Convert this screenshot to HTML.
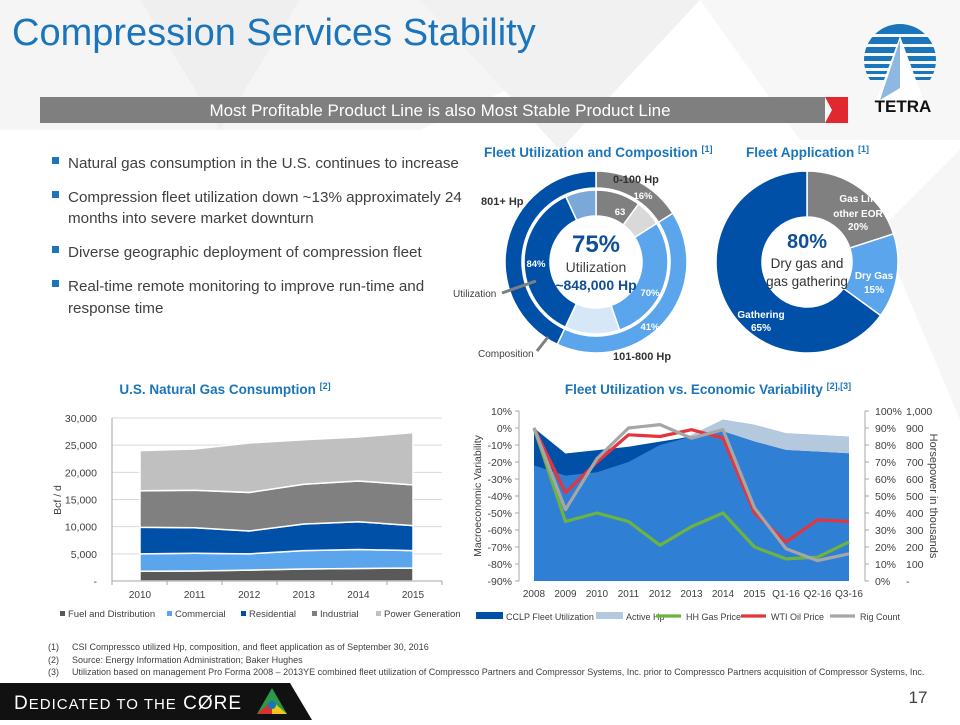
<!DOCTYPE html>
<html><head><meta charset="utf-8">
<style>
html,body{margin:0;padding:0;background:#fff;}
body{width:960px;height:720px;overflow:hidden;font-family:"Liberation Sans",sans-serif;}
svg text{font-family:"Liberation Sans",sans-serif;}
</style></head>
<body>
<svg id="s" width="960" height="720" viewBox="0 0 960 720" xmlns="http://www.w3.org/2000/svg">
<g>
<rect x="0" y="0" width="960" height="720" fill="#ffffff"/>
<polygon points="0,0 700,0 420,130 0,130" fill="#f5f5f6"/>
<polygon points="140,0 300,0 220,130" fill="#efeff0"/>
<polygon points="420,0 700,0 560,150" fill="#f1f1f2"/>
<polygon points="700,0 960,0 960,140 800,140" fill="#f7f7f8"/>
<polygon points="880,230 960,150 960,420" fill="#f6f6f7"/>
</g>
<text x="12" y="45" font-size="38" fill="#1b75bb">Compression Services Stability</text>
<g>
<rect x="40" y="97" width="785" height="26" fill="#7f7f7f"/>
<text x="440" y="116" font-size="17" fill="#fff" text-anchor="middle">Most Profitable Product Line is also Most Stable Product Line</text>
<polygon points="825,97 848,97 848,123 825,123 832,110" fill="#e0282e"/>
</g>
<g>
<clipPath id="lc"><circle cx="900" cy="60" r="36"/></clipPath>
<g clip-path="url(#lc)">
<rect x="860" y="24" width="80" height="10" fill="#1b75bb"/>
<rect x="860" y="37" width="80" height="7" fill="#1b75bb"/>
<rect x="860" y="47" width="80" height="6" fill="#1b75bb"/>
<rect x="860" y="56" width="80" height="5" fill="#1b75bb"/>
<rect x="860" y="64" width="80" height="4" fill="#1b75bb"/>
<rect x="860" y="71" width="80" height="3" fill="#1b75bb"/>
<rect x="860" y="77" width="80" height="3" fill="#1b75bb"/>
</g>
<polygon points="900,36 876,102 924,102" fill="#fff"/>
<polygon points="900,40 880,100 900,88" fill="#8fb8e0"/>
<text x="903" y="112" font-size="17" font-weight="bold" fill="#111" text-anchor="middle">TETRA</text>
</g>
<g font-size="15.2" fill="#404040">
<rect x="52" y="157" width="7" height="7" fill="#1b75bb"/><text x="68" y="168">Natural gas consumption in the U.S. continues to increase</text>
<rect x="52" y="191" width="7" height="7" fill="#1b75bb"/><text x="68" y="202">Compression fleet utilization down ~13% approximately 24</text>
<text x="68" y="223">months into severe market downturn</text>
<rect x="52" y="246" width="7" height="7" fill="#1b75bb"/><text x="68" y="257">Diverse geographic deployment of compression fleet</text>
<rect x="52" y="280" width="7" height="7" fill="#1b75bb"/><text x="68" y="291">Real-time remote monitoring to improve run-time and</text>
<text x="68" y="313">response time</text>
</g>
<text x="484" y="157" font-size="13.5" font-weight="bold" fill="#1b75bb">Fleet Utilization and Composition <tspan font-size="9" dy="-5">[1]</tspan></text>
<text x="746" y="157" font-size="13.5" font-weight="bold" fill="#1b75bb">Fleet Application <tspan font-size="9" dy="-5">[1]</tspan></text>
<g id="donuts"></g>
<text x="225" y="394" font-size="13.5" font-weight="bold" fill="#1b75bb" text-anchor="middle">U.S. Natural Gas Consumption <tspan font-size="9" dy="-5">[2]</tspan></text>
<text x="708" y="394" font-size="13.5" font-weight="bold" fill="#1b75bb" text-anchor="middle">Fleet Utilization vs. Economic Variability <tspan font-size="9" dy="-5">[2],[3]</tspan></text>
<g id="area1"></g>
<g id="area2"></g>
<g font-size="9" fill="#404040">
<text x="48" y="650">(1)</text><text x="72" y="650">CSI Compressco utilized Hp, composition, and fleet application as of September 30, 2016</text>
<text x="48" y="663">(2)</text><text x="72" y="663">Source: Energy Information Administration; Baker Hughes</text>
<text x="48" y="675">(3)</text><text x="72" y="675">Utilization based on management Pro Forma 2008 – 2013YE combined fleet utilization of Compressco Partners and Compressor Systems, Inc. prior to Compressco Partners acquisition of Compressor Systems, Inc.</text>
</g>
<g>
<polygon points="0,683 290,683 312,720 0,720" fill="#111"/>
<text x="14" y="709" font-size="19" fill="#fff" letter-spacing="1">D<tspan font-size="15">EDICATED TO THE</tspan> CØRE</text>
<polygon points="272,688 257,714 287,714" fill="#2a9a48"/>
<polygon points="272,701 257,714 272,714" fill="#d8312e"/>
<polygon points="272,701 287,714 272,714" fill="#f2c41c"/>
<circle cx="272" cy="705" r="4" fill="#1b75bb"/>
<text x="918" y="703" font-size="17" fill="#404040" text-anchor="middle">17</text>
</g>
</svg>
<script>
// ---- data: gas consumption ----
const gasYears = ['2010','2011','2012','2013','2014','2015'];
const fuelDist = [1800,1850,2000,2200,2300,2400];
const commercial = [3200,3250,3000,3400,3500,3200];
const residential = [4900,4700,4200,4900,5100,4600];
const industrial = [6700,6900,7100,7300,7500,7500];
const powerGen = [7400,7600,9100,8200,8100,9600];
const gasTicks = ['-','5,000','10,000','15,000','20,000','25,000','30,000'];
// ---- data: variability ----
const varCats = ['2008','2009','2010','2011','2012','2013','2014','2015','Q1-16','Q2-16','Q3-16'];
const fleetUtil = [0,-15,-13,-11,-8,-5,-2,-8,-13,-14,-15];
const activeHp = [-22,-28,-26,-20,-10,-4,5,2,-3,-4,-5];
const hhGas = [0,-55,-50,-55,-69,-58,-50,-70,-77,-76,-67];
const wtiOil = [0,-38,-20,-4,-5,-1,-6,-50,-67,-54,-55];
const rigCount = [0,-48,-18,0,2,-6,-1,-47,-71,-78,-74];
const leftTicks = ['10%','0%','-10%','-20%','-30%','-40%','-50%','-60%','-70%','-80%','-90%'];
const pctTicks = ['100%','90%','80%','70%','60%','50%','40%','30%','20%','10%','0%'];
const hpTicks = ['1,000','900','800','700','600','500','400','300','200','100','-'];
// ---- data: donuts ----
const compShares = [16,41,43];
const compUtil = [63,70,84];
const appShares = [20,15,65];

const NS='http://www.w3.org/2000/svg';
function mk(parent,tag,attrs,txt){const e=document.createElementNS(NS,tag);for(const k in attrs)e.setAttribute(k,attrs[k]);if(txt!==undefined)e.textContent=txt;parent.appendChild(e);return e;}

// ===== gas chart =====
const g1=document.getElementById('area1');


const gx=i=>140+i*54.6, gy=v=>581-v/30000*163;
for(let i=0;i<gasTicks.length;i++){
  const y=gy(i*5000);
  if(i>0){const l=mk(g1,'line',{x1:112,x2:442,y1:y,y2:y,stroke:'#d9d9d9','stroke-width':1});
  
  }
  const t=mk(g1,'text',{x:97,y:y+4,'font-size':10.5,fill:'#404040','text-anchor':'end'},gasTicks[i]);
  
  
}
const gasSeries=[fuelDist,commercial,residential,industrial,powerGen];
const gasColors=['#595959','#5aa5ec','#0050a8','#808080','#c0c0c0'];
const gasNames=['fuel-and-distribution','commercial','residential','industrial','power-generation'];
let base=gasYears.map(()=>0);
for(let s=0;s<gasSeries.length;s++){
  const top=base.map((b,i)=>b+gasSeries[s][i]);
  let d='M'+gx(0)+','+gy(top[0]);
  for(let i=1;i<top.length;i++)d+='L'+gx(i)+','+gy(top[i]);
  for(let i=top.length-1;i>=0;i--)d+='L'+gx(i)+','+gy(base[i]);
  const p=mk(g1,'path',{d:d+'Z',fill:gasColors[s],stroke:'#fff','stroke-width':1.5});
  
  
  base=top;
}
mk(g1,'line',{x1:112,x2:112,y1:418,y2:581,stroke:'#a6a6a6'});
mk(g1,'line',{x1:112,x2:442,y1:581,y2:581,stroke:'#a6a6a6'});
for(let i=0;i<=6;i++){mk(g1,'line',{x1:112+i*55,x2:112+i*55,y1:581,y2:585,stroke:'#a6a6a6'});}
gasYears.forEach((yr,i)=>{const t=mk(g1,'text',{x:gx(i),y:598,'font-size':10,fill:'#404040','text-anchor':'middle'},yr);

});
const yt=mk(g1,'text',{x:0,y:0,'font-size':10.5,fill:'#404040','text-anchor':'middle',transform:'translate(61,500) rotate(-90)'},'Bcf / d');


const legX=[60,167,241,312,376],legT=['Fuel and Distribution','Commercial','Residential','Industrial','Power Generation'];
legT.forEach((n,i)=>{const lg=mk(g1,'g',{});


mk(lg,'rect',{x:legX[i],y:611,width:5,height:5,fill:gasColors[i]});
mk(lg,'text',{x:legX[i]+8,y:617,'font-size':9.5,fill:'#404040'},n);});

// ===== variability chart =====
const g2=document.getElementById('area2');


const vx=i=>534+i*31.5, vy=p=>411+(10-p)/100*170, vb=vy(-90);
function areaPath(vals){let d='M'+vx(0)+','+vb;vals.forEach((v,i)=>d+='L'+vx(i)+','+vy(v));return d+'L'+vx(vals.length-1)+','+vb+'Z';}
const aH=mk(g2,'path',{d:areaPath(activeHp),fill:'#b4c9dd'});


const aU=mk(g2,'path',{d:areaPath(fleetUtil),fill:'#0050a8'});


const aM=mk(g2,'path',{d:areaPath(fleetUtil.map((v,i)=>Math.min(v,activeHp[i]))),fill:'#2f80d5'});


function line(vals,col,name){let d='';vals.forEach((v,i)=>d+=(i?'L':'M')+vx(i)+','+vy(v));
const p=mk(g2,'path',{d:d,fill:'none',stroke:col,'stroke-width':3.2,'stroke-linejoin':'round'});

}
line(hhGas,'#6db33f','line-hh-gas-price');
line(wtiOil,'#e2363f','line-wti-oil-price');
line(rigCount,'#a6a6a6','line-rig-count');
mk(g2,'line',{x1:519,x2:519,y1:411,y2:581,stroke:'#a6a6a6'});
mk(g2,'line',{x1:865,x2:865,y1:411,y2:581,stroke:'#a6a6a6'});
for(let i=0;i<leftTicks.length;i++){const y=vy(10-i*10);
mk(g2,'line',{x1:515,x2:519,y1:y,y2:y,stroke:'#a6a6a6'});
mk(g2,'line',{x1:865,x2:869,y1:y,y2:y,stroke:'#a6a6a6'});
const t=mk(g2,'text',{x:512,y:y+4,'font-size':10.5,fill:'#404040','text-anchor':'end'},leftTicks[i]);


const t2=mk(g2,'text',{x:875,y:y+4,'font-size':10.5,fill:'#404040'},pctTicks[i]);


const t3=mk(g2,'text',{x:906,y:y+4,'font-size':10.5,fill:'#404040'},hpTicks[i]);

}
varCats.forEach((c,i)=>{const t=mk(g2,'text',{x:vx(i),y:597,'font-size':10,fill:'#404040','text-anchor':'middle'},c);

});
const l1=mk(g2,'text',{x:0,y:0,'font-size':10.5,fill:'#404040','text-anchor':'middle',transform:'translate(481,496) rotate(-90)'},'Macroeconomic Variability');


const l2=mk(g2,'text',{x:0,y:0,'font-size':11,fill:'#404040','text-anchor':'middle',transform:'translate(930,496) rotate(90)'},'Horsepower in thousands');


const vl=[[476,'#0050a8','rect','CCLP Fleet Utilization'],[596,'#b4c9dd','rect','Active Hp'],[656,'#6db33f','line','HH Gas Price'],[741,'#e2363f','line','WTI Oil Price'],[830,'#a6a6a6','line','Rig Count']];
vl.forEach(e=>{const lg=mk(g2,'g',{});


if(e[2]==='rect')mk(lg,'rect',{x:e[0],y:612,width:27,height:7,fill:e[1]});
else mk(lg,'line',{x1:e[0],x2:e[0]+25,y1:616,y2:616,stroke:e[1],'stroke-width':3.2});
mk(lg,'text',{x:e[0]+30,y:620,'font-size':9,fill:'#404040'},e[3]);});

// ===== donuts =====
const gd=document.getElementById('donuts');


function arc(cx,cy,r0,r1,a0,a1,col,name){
 const p=(r,a)=>[cx+r*Math.sin(a*Math.PI/180),cy-r*Math.cos(a*Math.PI/180)];
 const lg=(a1-a0)>180?1:0;
 const [x0,y0]=p(r1,a0),[x1,y1]=p(r1,a1),[x2,y2]=p(r0,a1),[x3,y3]=p(r0,a0);
 const e=mk(gd,'path',{d:`M${x0},${y0}A${r1},${r1} 0 ${lg} 1 ${x1},${y1}L${x2},${y2}A${r0},${r0} 0 ${lg} 0 ${x3},${y3}Z`,fill:col,stroke:'#fff','stroke-width':1.5});
 
 
}
const cx1=596,cy1=262;
const compCols=['#808080','#5aa5ec','#0050a8'],compUn=['#d9d9d9','#d6e8f8','#7aa8d8'],compNames=['0-100-hp','101-800-hp','801-plus-hp'];
let a=0;
compShares.forEach((s,i)=>{const span=s*3.6;
arc(cx1,cy1,74,91,a,a+span,compCols[i],'composition-'+compNames[i]);
const u=span*compUtil[i]/100;
arc(cx1,cy1,46,72,a,a+u,compCols[i],'utilization-'+compNames[i]);
arc(cx1,cy1,46,72,a+u,a+span,compUn[i],'unutilized-'+compNames[i]);
a+=span;});
const cx2=807;
const appCols=['#808080','#5aa5ec','#0050a8'],appNames=['gas-lift','dry-gas','gathering'];
a=0;
appShares.forEach((s,i)=>{arc(cx2,cy1,45,91,a,a+s*3.6,appCols[i],'application-'+appNames[i]);a+=s*3.6;});
const labels=[
[cx1,252,24,'bold','#0f4f99','middle','75%'],[cx1,272,14,'normal','#404040','middle','Utilization'],[cx1,290,14,'bold','#0f4f99','middle','~848,000 Hp'],
[613,183,11,'bold','#333','start','0-100 Hp'],[481,205,11,'bold','#333','start','801+ Hp'],[613,360,11,'bold','#333','start','101-800 Hp'],
[643,199,9.5,'bold','#fff','middle','16%'],[620,215,9.5,'bold','#fff','middle','63'],[491,238,9.5,'bold','#fff','middle','43%'],[536,267,9.5,'bold','#fff','middle','84%'],
[650,296,9.5,'bold','#fff','middle','70%'],[650,330,9.5,'bold','#fff','middle','41%'],
[453,297,10,'normal','#404040','start','Utilization'],[478,357,10,'normal','#404040','start','Composition'],
[cx2,248,20,'bold','#0f4f99','middle','80%'],[cx2,268,13.5,'normal','#333','middle','Dry gas and'],[cx2,286,13.5,'normal','#333','middle','gas gathering'],
[858,202,10,'bold','#fff','middle','Gas Lift'],[858,217,10,'bold','#fff','middle','other EOR'],[858,230,10,'bold','#fff','middle','20%'],
[874,279,10,'bold','#fff','middle','Dry Gas'],[874,293,10,'bold','#fff','middle','15%'],
[761,318,10,'bold','#fff','middle','Gathering'],[761,331,10,'bold','#fff','middle','65%']];
labels.forEach(l=>{const t=mk(gd,'text',{x:l[0],y:l[1],'font-size':l[2],'font-weight':l[3],fill:l[4],'text-anchor':l[5]},l[6]);

});
mk(gd,'line',{x1:502,y1:293,x2:536,y2:281,stroke:'#7f7f7f','stroke-width':3});
mk(gd,'line',{x1:537,y1:351,x2:548,y2:337,stroke:'#7f7f7f','stroke-width':3});
</script>
</body></html>
